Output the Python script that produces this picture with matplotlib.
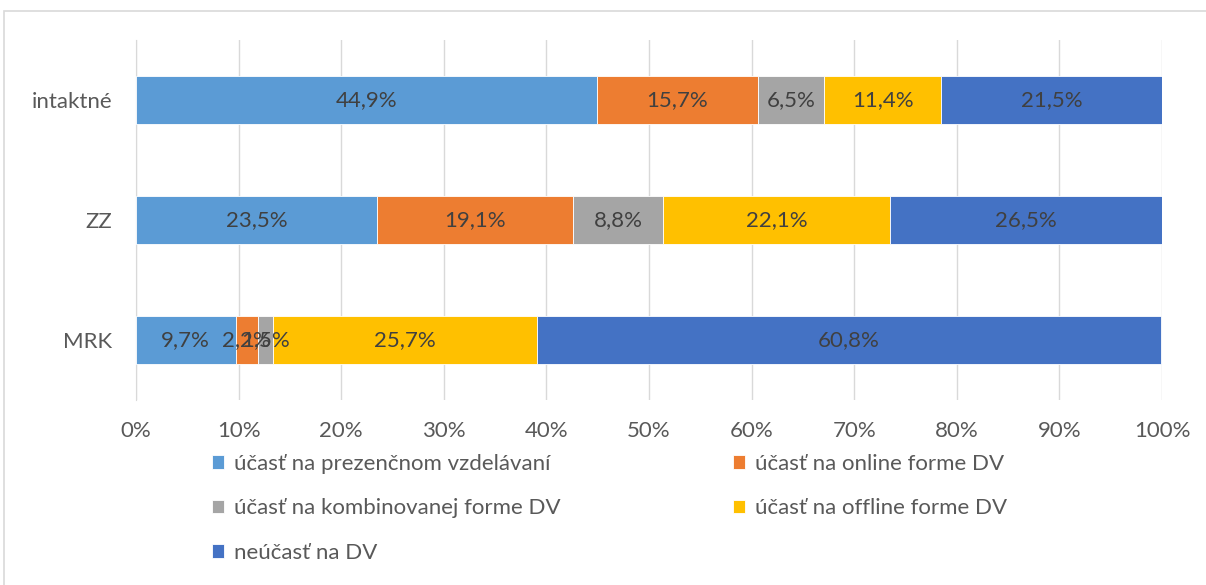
import numpy as np
import matplotlib.pyplot as plt
from matplotlib.patches import Rectangle

categories = ["intaktné", "ZZ", "MRK"]
series = [
    "účasť na prezenčnom vzdelávaní",
    "účasť na online forme DV",
    "účasť na kombinovanej forme DV",
    "účasť na offline forme DV",
    "neúčasť na DV",
]
values = [
    [44.9, 23.5, 9.7],
    [15.7, 19.1, 2.2],
    [6.5, 8.8, 1.5],
    [11.4, 22.1, 25.7],
    [21.5, 26.5, 60.8],
]
colors = ["#5B9BD5", "#ED7D31", "#A5A5A5", "#FFC000", "#4472C4"]
xticks = [0, 10, 20, 30, 40, 50, 60, 70, 80, 90, 100]

plt.rcParams["font.family"] = ["Lato", "DejaVu Sans"]
TXT = "#404040"
TICK = "#595959"
FS = 16

fig = plt.figure(figsize=(12.06, 5.85), dpi=100)
ax = fig.add_axes([136 / 1206, 1 - 400 / 585, (1162 - 136) / 1206, 360 / 585])

# light chart border
fig.patches.append(Rectangle((4 / 1206, -0.05), 1.2, 1 - 11 / 585 + 0.05,
                             transform=fig.transFigure, fill=False,
                             edgecolor="#D9D9D9", lw=1.2))

y = np.arange(len(categories))
left = np.zeros(len(categories))
handles = []
for name, vals, c in zip(series, values, colors):
    vals = np.array(vals)
    bars = ax.barh(y, vals, left=left, height=0.4, color=c, label=name,
                   edgecolor="white", linewidth=0.6, zorder=3)
    handles.append(bars)
    for xi, yi, v in zip(left, y, vals):
        ax.text(xi + v / 2, yi, f"{v:.1f}%".replace(".", ","),
                ha="center", va="center", fontsize=FS, color=TXT, zorder=4)
    left = left + vals

ax.set_xlim(0, 100)
ax.set_ylim(2.5, -0.5)
ax.set_xticks(xticks)
ax.set_xticklabels([f"{t}%" for t in xticks], fontsize=FS, color=TICK)
ax.set_yticks(y)
ax.set_yticklabels(categories, fontsize=FS, color=TICK)
ax.tick_params(axis="x", length=0, pad=15)
ax.tick_params(axis="y", length=0, pad=17)
ax.xaxis.grid(True, color="#D9D9D9", lw=1, zorder=0)
for s in ["top", "right", "bottom"]:
    ax.spines[s].set_visible(False)
ax.spines["left"].set_color("#D9D9D9")

legend_kw = dict(loc="upper left", frameon=False,
                 prop={"size": FS, "weight": "normal"}, labelcolor=TICK,
                 handlelength=0.55, handleheight=0.55, handletextpad=0.45,
                 labelspacing=1.1, borderaxespad=0, borderpad=0)
col1 = [0, 2, 4]
col2 = [1, 3]
fig.legend([handles[i] for i in col1], [series[i] for i in col1],
           bbox_to_anchor=(212 / 1206, 1 - 454 / 585), **legend_kw)
fig.legend([handles[i] for i in col2], [series[i] for i in col2],
           bbox_to_anchor=(733 / 1206, 1 - 454 / 585), **legend_kw)

fig.savefig("out.png", dpi=100)
